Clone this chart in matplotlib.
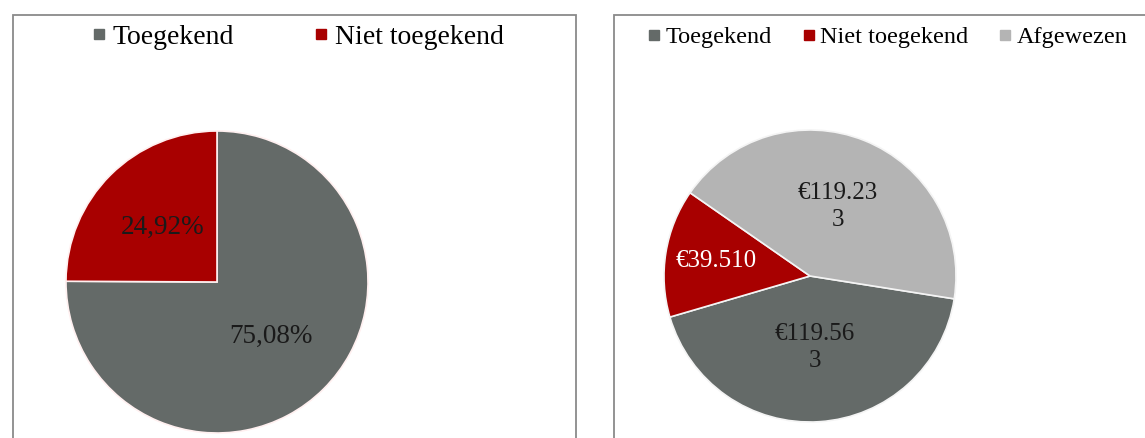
import matplotlib
matplotlib.use('Agg')
import matplotlib.pyplot as plt
import numpy as np
from matplotlib.patches import Rectangle
from matplotlib.lines import Line2D

# --- data ---
left_categories = ["Toegekend", "Niet toegekend"]
left_values     = [75.08, 24.92]

right_categories = ["Toegekend", "Niet toegekend", "Afgewezen"]
right_values     = [119563, 39510, 119233]
right_labels     = ["€119.56\n3", "€39.510", "€119.23\n3"]

DARK_GRAY  = "#646a68"
RED        = "#a80000"
LIGHT_GRAY = "#b4b4b4"

left_colors  = [DARK_GRAY, RED]
right_colors = [DARK_GRAY, RED, LIGHT_GRAY]

W, H = 1145, 438
plt.rcParams['font.family'] = ['Liberation Serif', 'DejaVu Serif']

fig = plt.figure(figsize=(W / 100, H / 100), dpi=100)


def px_box(cx, cy, r):
    """Axes box (figure fraction) for a pie of radius r centred at pixel (cx, cy)."""
    return [(cx - r) / W, (H - cy - r) / H, 2 * r / W, 2 * r / H]


def pct_fmt(pct):
    return f"{pct:.2f}".replace(".", ",") + "%"


# --- panel frames ---
frame_kw = dict(transform=fig.transFigure, fill=False,
                edgecolor="#8a8a8a", linewidth=1.3, clip_on=False)
fig.add_artist(Rectangle((13 / W, -0.05), (576 - 13) / W, 0.05 + (H - 15) / H, **frame_kw))
fig.add_artist(Rectangle((614 / W, -0.05), 1.1 - 614 / W, 0.05 + (H - 15) / H, **frame_kw))

# --- left pie ---
ax1 = fig.add_axes(px_box(217, 282, 151))
wedges1, _, auto1 = ax1.pie(
    left_values, colors=left_colors, startangle=90, counterclock=False,
    autopct=pct_fmt, pctdistance=0.51,
    wedgeprops=dict(edgecolor="#fff0f0", linewidth=1.2),
    textprops=dict(fontsize=19.5, color="#1a1a1a"),
)
ax1.set_xlim(-1.0, 1.0)
ax1.set_ylim(-1.0, 1.0)
ax1.set_aspect("equal")

# --- right pie ---
ax2 = fig.add_axes(px_box(810, 276, 146))
wedges2, _ = ax2.pie(
    right_values, colors=right_colors, startangle=-9, counterclock=False,
    wedgeprops=dict(edgecolor="#f4f4f4", linewidth=1.2),
)
dists = [0.49, 0.65, 0.51]
text_colors = ["#1a1a1a", "white", "#1a1a1a"]
for w, lab, d, c in zip(wedges2, right_labels, dists, text_colors):
    ang = np.deg2rad((w.theta1 + w.theta2) / 2)
    ax2.text(d * np.cos(ang), d * np.sin(ang), lab, ha="center", va="center",
             fontsize=18, color=c, linespacing=1.3)
ax2.set_xlim(-1.0, 1.0)
ax2.set_ylim(-1.0, 1.0)
ax2.set_aspect("equal")

# --- legends ---
def handles(colors):
    return [Line2D([], [], marker="s", linestyle="none", markersize=7,
                   markerfacecolor=c, markeredgecolor=c) for c in colors]

fig.legend(handles(left_colors), left_categories, loc="center",
           bbox_to_anchor=(298 / W, 1 - 37 / H), ncol=2, frameon=False,
           fontsize=20, handlelength=0.5, handletextpad=0.25,
           columnspacing=2.9, borderpad=0, borderaxespad=0)

fig.legend(handles(right_colors), right_categories, loc="center",
           bbox_to_anchor=(888 / W, 1 - 37 / H), ncol=3, frameon=False,
           fontsize=17.5, handlelength=0.45, handletextpad=0.25,
           columnspacing=1.3, borderpad=0, borderaxespad=0)

fig.savefig("out.png", dpi=100)
plt.close()
